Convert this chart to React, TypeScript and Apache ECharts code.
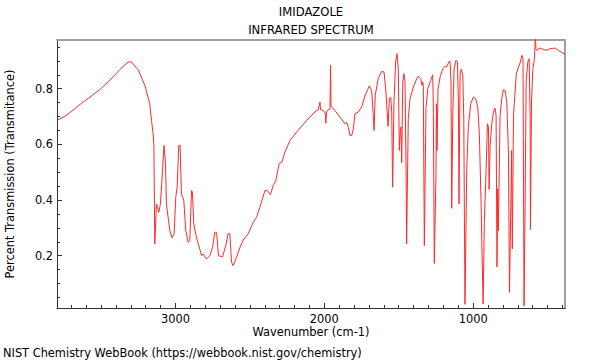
import React, { useEffect, useRef } from "react";
import * as echarts from "echarts";

const wavenumbers = [
  3796, 3733, 3621, 3509, 3442, 3375, 3319, 3296, 3251, 3206, 3173, 3161, 3151, 3145, 3139, 3128, 3112, 3101,
  3087, 3077, 3067, 3061, 3038, 3023, 3009, 2998, 2989, 2978, 2969, 2960, 2944, 2931, 2915, 2904, 2892, 2886,
  2877, 2859, 2837, 2825, 2814, 2792, 2769, 2751, 2736, 2724, 2711, 2684, 2662, 2646, 2635, 2623, 2613, 2590,
  2568, 2545, 2512, 2478, 2455, 2433, 2399, 2384, 2361, 2344, 2326, 2303, 2285, 2265, 2231, 2186, 2119, 2052,
  2041, 2029, 2025, 2007, 1994, 1990, 1985, 1980, 1962, 1958, 1955, 1949, 1929, 1895, 1861, 1850, 1839, 1828,
  1816, 1805, 1794, 1772, 1749, 1727, 1698, 1682, 1671, 1666, 1658, 1638, 1615, 1599, 1586, 1572, 1563, 1554,
  1547, 1541, 1532, 1521, 1512, 1503, 1496, 1489, 1485, 1480, 1473, 1465, 1458, 1451, 1447, 1436, 1424, 1402,
  1379, 1368, 1352, 1343, 1339, 1335, 1328, 1317, 1305, 1285, 1272, 1268, 1261, 1250, 1247, 1243, 1236, 1220,
  1203, 1189, 1178, 1164, 1155, 1149, 1144, 1137, 1128, 1115, 1106, 1099, 1095, 1088, 1081, 1070, 1063, 1055,
  1043, 1032, 1016, 999, 983, 969, 958, 947, 940, 933, 925, 913, 904, 897, 893, 886, 875, 864,
  853, 846, 840, 835, 831, 819, 808, 797, 785, 774, 763, 756, 746, 742, 737, 729, 717, 710,
  695, 683, 672, 665, 662, 658, 651, 644, 633, 624, 617, 615, 608, 599, 588, 582, 578, 572,
  550, 528, 505, 483, 449, 427, 404, 383,
];

const transmittance = [
  0.686, 0.704, 0.752, 0.796, 0.83, 0.868, 0.896, 0.896, 0.868, 0.812, 0.746, 0.686, 0.64, 0.6, 0.242, 0.386, 0.356, 0.387,
  0.506, 0.596, 0.53, 0.386, 0.29, 0.264, 0.278, 0.41, 0.446, 0.596, 0.596, 0.422, 0.398, 0.29, 0.248, 0.254, 0.434, 0.428,
  0.314, 0.266, 0.224, 0.2, 0.206, 0.188, 0.2, 0.23, 0.284, 0.284, 0.2, 0.196, 0.236, 0.28, 0.278, 0.176, 0.164, 0.194,
  0.228, 0.256, 0.278, 0.32, 0.338, 0.374, 0.434, 0.434, 0.42, 0.452, 0.47, 0.532, 0.536, 0.572, 0.614, 0.644, 0.686, 0.722,
  0.724, 0.752, 0.724, 0.722, 0.712, 0.676, 0.716, 0.722, 0.728, 0.884, 0.74, 0.734, 0.722, 0.698, 0.674, 0.68, 0.662, 0.632,
  0.632, 0.656, 0.71, 0.716, 0.734, 0.774, 0.81, 0.794, 0.704, 0.65, 0.776, 0.836, 0.862, 0.86, 0.788, 0.665, 0.764, 0.77,
  0.716, 0.446, 0.752, 0.896, 0.926, 0.872, 0.578, 0.656, 0.662, 0.534, 0.824, 0.854, 0.824, 0.512, 0.242, 0.692, 0.764, 0.806,
  0.836, 0.845, 0.836, 0.812, 0.824, 0.812, 0.236, 0.728, 0.8, 0.83, 0.85, 0.752, 0.172, 0.488, 0.746, 0.578, 0.8, 0.848,
  0.872, 0.881, 0.878, 0.896, 0.898, 0.824, 0.37, 0.704, 0.872, 0.902, 0.896, 0.752, 0.386, 0.848, 0.87, 0.854, 0.692, 0.025,
  0.512, 0.668, 0.746, 0.77, 0.764, 0.734, 0.632, 0.392, 0.2, 0.026, 0.32, 0.512, 0.674, 0.662, 0.438, 0.596, 0.674, 0.716,
  0.73, 0.704, 0.16, 0.44, 0.29, 0.704, 0.764, 0.796, 0.794, 0.752, 0.572, 0.068, 0.416, 0.578, 0.224, 0.704, 0.8, 0.854,
  0.878, 0.896, 0.92, 0.908, 0.512, 0.02, 0.392, 0.824, 0.896, 0.908, 0.692, 0.294, 0.752, 0.872, 0.908, 0.99, 0.94, 0.938,
  0.946, 0.941, 0.938, 0.944, 0.946, 0.938, 0.93, 0.924,
];

const xMajorTicks = [1000, 2000, 3000];
const xMinorTicks = [
  400, 500, 600, 700, 800, 900, 1100, 1200, 1300, 1400, 1500, 1600, 1700, 1800, 1900, 2100, 2200, 2300, 2400,
  2500, 2600, 2700, 2800, 2900, 3100, 3200, 3300, 3400, 3500, 3600, 3700,
];
const yMajorTicks = [0.2, 0.4, 0.6, 0.8];
const yMinorTicks = [0.05, 0.1, 0.15, 0.25, 0.3, 0.35, 0.45, 0.5, 0.55, 0.65, 0.7, 0.75, 0.85, 0.9, 0.95];

const X_MIN = 383;
const X_MAX = 3796;
const Y_MIN = 0.012;
const Y_MAX = 0.975;

const FONT = "DejaVu Sans";

export default function App() {
  const ref = useRef<HTMLDivElement>(null);

  useEffect(() => {
    if (!ref.current) return;
    const chart = echarts.init(ref.current, null, { renderer: "svg" });
    const data = wavenumbers.map((w, i) => [w, transmittance[i]]);
    const baseX = { type: "value", min: X_MIN, max: X_MAX, inverse: true, gridIndex: 0, splitLine: { show: false } };
    const baseY = { type: "value", min: Y_MIN, max: Y_MAX, gridIndex: 0, splitLine: { show: false } };
    chart.setOption({
      animation: false,
      backgroundColor: "#ffffff",
      grid: { left: 57, right: 35, top: 40, bottom: 52, containLabel: false },
      xAxis: [
        {
          ...baseX,
          position: "bottom",
          axisLine: { show: true, lineStyle: { color: "#333333", width: 1 } },
          axisTick: { show: true, inside: true, length: 5, customValues: xMajorTicks, lineStyle: { color: "#333333" } },
          axisLabel: {
            show: true,
            customValues: xMajorTicks,
            formatter: (v: number) => String(v),
            color: "#000",
            fontFamily: FONT,
            fontSize: 11.4,
            margin: 5,
          },
        },
        {
          ...baseX,
          position: "bottom",
          axisLine: { show: false },
          axisTick: { show: true, inside: true, length: 3, customValues: xMinorTicks, lineStyle: { color: "#333333" } },
          axisLabel: { show: false },
        },
        {
          ...baseX,
          position: "top",
          axisLine: { show: true, lineStyle: { color: "#a0a0a0", width: 2 } },
          axisTick: { show: false },
          axisLabel: { show: false },
        },
      ],
      yAxis: [
        {
          ...baseY,
          position: "left",
          axisLine: { show: true, lineStyle: { color: "#333333", width: 1 } },
          axisTick: { show: true, inside: true, length: 5, customValues: yMajorTicks, lineStyle: { color: "#333333" } },
          axisLabel: {
            show: true,
            customValues: yMajorTicks,
            formatter: (v: number) => String(v),
            color: "#000",
            fontFamily: FONT,
            fontSize: 11.4,
            margin: 4,
          },
        },
        {
          ...baseY,
          position: "left",
          axisLine: { show: false },
          axisTick: { show: true, inside: true, length: 3, customValues: yMinorTicks, lineStyle: { color: "#333333" } },
          axisLabel: { show: false },
        },
        {
          ...baseY,
          position: "right",
          axisLine: { show: true, lineStyle: { color: "#a0a0a0", width: 2 } },
          axisTick: { show: false },
          axisLabel: { show: false },
        },
      ],
      series: [
        {
          type: "line",
          xAxisIndex: 0,
          yAxisIndex: 0,
          data,
          showSymbol: false,
          symbol: "none",
          clip: true,
          lineStyle: { color: "#ff2a2a", width: 1 },
        },
      ],
      graphic: [
        { type: "text", x: 311, y: 12, style: { text: "IMIDAZOLE", font: `11.6px ${FONT}`, fill: "#000", textAlign: "center", textVerticalAlign: "middle" } },
        { type: "text", x: 311, y: 30, style: { text: "INFRARED SPECTRUM", font: `11.6px ${FONT}`, fill: "#000", textAlign: "center", textVerticalAlign: "middle" } },
        { type: "text", x: 311, y: 332, style: { text: "Wavenumber (cm-1)", font: `11.4px ${FONT}`, fill: "#000", textAlign: "center", textVerticalAlign: "middle" } },
        { type: "text", x: 10, y: 174, rotation: Math.PI / 2, style: { text: "Percent Transmission (Transmitance)", font: `11.4px ${FONT}`, fill: "#000", textAlign: "center", textVerticalAlign: "middle" } },
        { type: "text", x: 3, y: 353, style: { text: "NIST Chemistry WebBook (https://webbook.nist.gov/chemistry)", font: `11.4px ${FONT}`, fill: "#000", textAlign: "left", textVerticalAlign: "middle" } },
      ],
    });
    return () => chart.dispose();
  }, []);

  return <div ref={ref} style={{ width: 600, height: 360, position: "absolute", left: 0, top: 0 }} />;
}
